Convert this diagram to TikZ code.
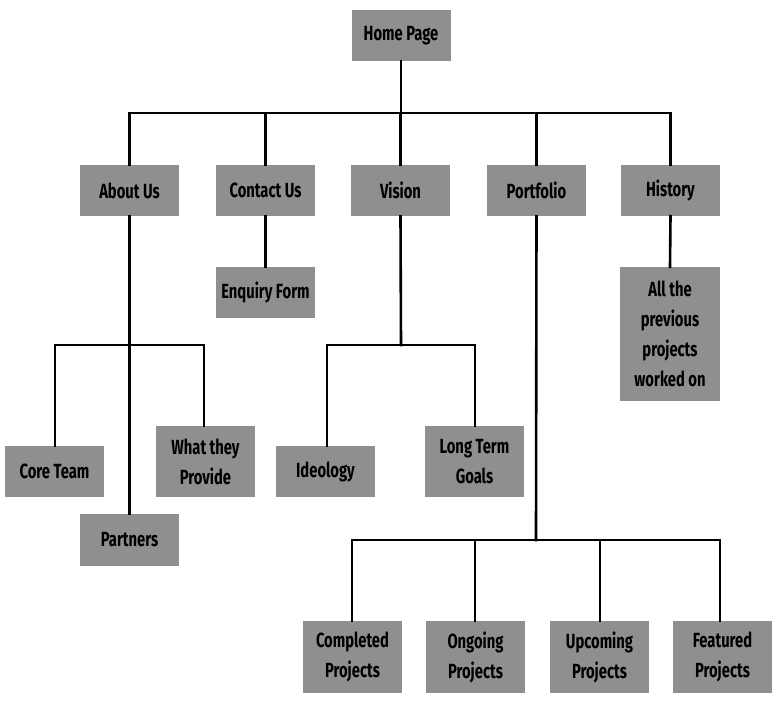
\documentclass[tikz,border=0pt]{standalone}
\usepackage{fontspec}
\setmainfont{Fira Sans}[FakeStretch=0.72]
\definecolor{boxgray}{RGB}{143,143,143}
\tikzset{
  pbox/.style={fill=boxgray, draw=none, minimum width=99pt, minimum height=51pt, inner sep=0pt,
    align=center, font=\fontsize{20.5}{30}\selectfont\bfseries, text=black},
  link/.style={line width=2.6pt, draw=black, line cap=rect}
}
\begin{document}
\begin{tikzpicture}[x=1pt,y=-1pt]
\useasboundingbox (0,0) rectangle (777,703);
% nodes
\node[pbox] (home) at (401,35.5) {Home Page};
\node[pbox] (about) at (129.5,190.5) {About Us};
\node[pbox] (contact) at (265.5,190.5) {Contact Us};
\node[pbox] (vision) at (400.5,190.5) {Vision};
\node[pbox] (portfolio) at (536.5,190.5) {Portfolio};
\node[pbox] (history) at (670.5,190.5) {History};
\node[pbox] (enquiry) at (265.5,292.5) {Enquiry Form};
\node[pbox, minimum width=100pt, minimum height=134pt] (prev) at (670,334) {All the\\previous\\projects\\worked on};
\node[pbox] (core) at (54.5,471.5) {Core Team};
\node[pbox, minimum height=71pt] (provide) at (205.5,461.5) {What they\\Provide};
\node[pbox, minimum height=52pt] (partners) at (129.5,540) {Partners};
\node[pbox] (ideology) at (325.5,471.5) {Ideology};
\node[pbox, minimum height=71pt] (goals) at (474.5,461.5) {Long Term\\Goals};
\node[pbox, minimum height=72pt] (completed) at (352.5,657) {Completed\\Projects};
\node[pbox, minimum height=72pt] (ongoing) at (475.5,657) {Ongoing\\Projects};
\node[pbox, minimum height=72pt] (upcoming) at (599.5,657) {Upcoming\\Projects};
\node[pbox, minimum height=72pt] (featured) at (722.5,657) {Featured\\Projects};
% bus coordinates
\coordinate (busA) at (401,113);
\coordinate (busC) at (401,345);
\coordinate (busD) at (536,540);
% top level
\draw[link] (home.south) -- (busA);
\draw[link] (about.north) -- (about.north |- busA) -- (history.north |- busA) -- (history.north);
\draw[link] (contact.north) -- (contact.north |- busA);
\draw[link] (vision.north) -- (vision.north |- busA);
\draw[link] (portfolio.north) -- (portfolio.north |- busA);
% contact & history
\draw[link] (contact.south) -- (enquiry.north);
\draw[link] (history.south) -- (prev.north);
% about us
\draw[link] (about.south) -- (partners.north);
\draw[link] (core.north -| 55,0) -- (55,345) -- (204,345) -- (provide.north -| 204,0);
% vision
\draw[link] (vision.south) -- (busC);
\draw[link] (ideology.north -| 327,0) -- (327,345) -- (475,345) -- (goals.north -| 475,0);
% portfolio
\draw[link] (portfolio.south) -- (busD);
\draw[link] (completed.north -| 352,0) -- (352,540) -- (720,540) -- (featured.north -| 720,0);
\draw[link] (ongoing.north -| 475,0) -- (475,540);
\draw[link] (upcoming.north -| 600,0) -- (600,540);
\end{tikzpicture}
\end{document}
